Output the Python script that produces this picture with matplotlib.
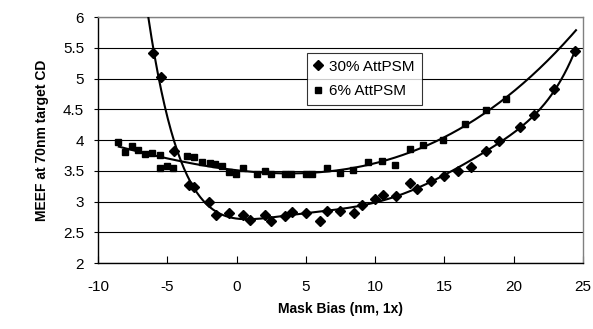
import numpy as np
import matplotlib
matplotlib.use("Agg")
import matplotlib.pyplot as plt

plt.rcParams["font.family"] = ["Liberation Sans", "DejaVu Sans"]
plt.rcParams["axes.unicode_minus"] = False

# 30% AttPSM (diamonds)
bias_30 = [-6.0, -5.45, -4.52, -3.4, -3.1, -1.97, -1.5, -0.55, 0.5, 0.97, 2.05, 2.47,
           3.49, 3.97, 5.02, 6.02, 6.55, 7.5, 8.47, 9.02, 10.0, 10.54, 11.5, 12.55,
           13.0, 14.05, 15.0, 15.95, 16.93, 18.02, 18.95, 20.49, 21.45, 22.92, 24.46]
meef_30 = [5.42, 5.02, 3.82, 3.27, 3.24, 3.0, 2.78, 2.81, 2.78, 2.7, 2.78, 2.69,
           2.77, 2.83, 2.81, 2.69, 2.85, 2.85, 2.81, 2.95, 3.04, 3.1, 3.09, 3.3,
           3.21, 3.33, 3.42, 3.49, 3.56, 3.82, 3.99, 4.21, 4.41, 4.83, 5.44]

# 6% AttPSM (squares)
bias_6 = [-8.53, -8.05, -7.57, -7.09, -6.61, -6.13, -5.53, -5.53, -5.04, -4.56,
          -3.56, -3.07, -2.52, -1.92, -1.56, -1.03, -0.53, -0.04, 0.49, 1.45,
          2.02, 2.45, 3.49, 3.95, 4.98, 5.44, 6.5, 7.46, 8.42, 9.5, 10.47, 11.43,
          12.51, 13.47, 14.91, 16.48, 17.97, 19.48]
meef_6 = [3.97, 3.81, 3.9, 3.83, 3.78, 3.79, 3.76, 3.54, 3.57, 3.54,
          3.74, 3.72, 3.65, 3.62, 3.61, 3.58, 3.48, 3.45, 3.55, 3.45,
          3.5, 3.45, 3.44, 3.44, 3.44, 3.44, 3.54, 3.47, 3.52, 3.65, 3.66, 3.6,
          3.86, 3.92, 4.0, 4.26, 4.48, 4.66]

fig = plt.figure(figsize=(5.93, 3.29), dpi=100)
ax = fig.add_axes([0.1653, 0.2006, 0.8177, 0.7477])

# polynomial trendlines, as in the spreadsheet
fit_30 = np.polyfit(bias_30, meef_30, 6)
fit_6 = np.polyfit(bias_6, meef_6, 4)
xs_30 = np.linspace(-6.6, 24.5, 400)
xs_6 = np.linspace(-8.5, 24.5, 400)
ax.plot(xs_30, np.polyval(fit_30, xs_30), color="black", lw=1.5, zorder=3)
ax.plot(xs_6, np.polyval(fit_6, xs_6), color="black", lw=1.5, zorder=3)

ax.plot(bias_30, meef_30, "D", color="black", ms=4.8, ls="none",
        label="30% AttPSM", zorder=4)
ax.plot(bias_6, meef_6, "s", color="black", ms=5, ls="none",
        label="6% AttPSM", zorder=4)

ax.set_xlim(-10, 25)
ax.set_ylim(2, 6)
ax.set_xticks(np.arange(-10, 26, 5))
ax.set_yticks(np.arange(2, 6.01, 0.5))
ax.set_yticklabels(["2", "2.5", "3", "3.5", "4", "4.5", "5", "5.5", "6"])
ax.grid(axis="y", color="black", lw=0.8)
ax.set_axisbelow(True)

for side in ["left", "bottom"]:
    ax.spines[side].set_color("black")
    ax.spines[side].set_linewidth(1.0)
for side in ["top", "right"]:
    ax.spines[side].set_color("#808080")
    ax.spines[side].set_linewidth(1.0)

ax.tick_params(axis="x", direction="in", length=5, pad=12, labelsize=11)
ax.tick_params(axis="y", direction="out", length=3, pad=7, labelsize=11)

ax.set_xlabel("Mask Bias (nm, 1x)", fontsize=10, fontweight="bold", labelpad=6)
ax.set_ylabel("MEEF at 70nm target CD", fontsize=10, fontweight="bold", labelpad=10)

leg = ax.legend(loc="upper left", bbox_to_anchor=(0.431, 0.854), fontsize=11,
                frameon=True, fancybox=False, edgecolor="black", handlelength=0.6,
                handletextpad=0.4, borderpad=0.45, labelspacing=0.7,
                borderaxespad=0)
leg.get_frame().set_linewidth(0.8)

fig.savefig("out.png", dpi=100)
